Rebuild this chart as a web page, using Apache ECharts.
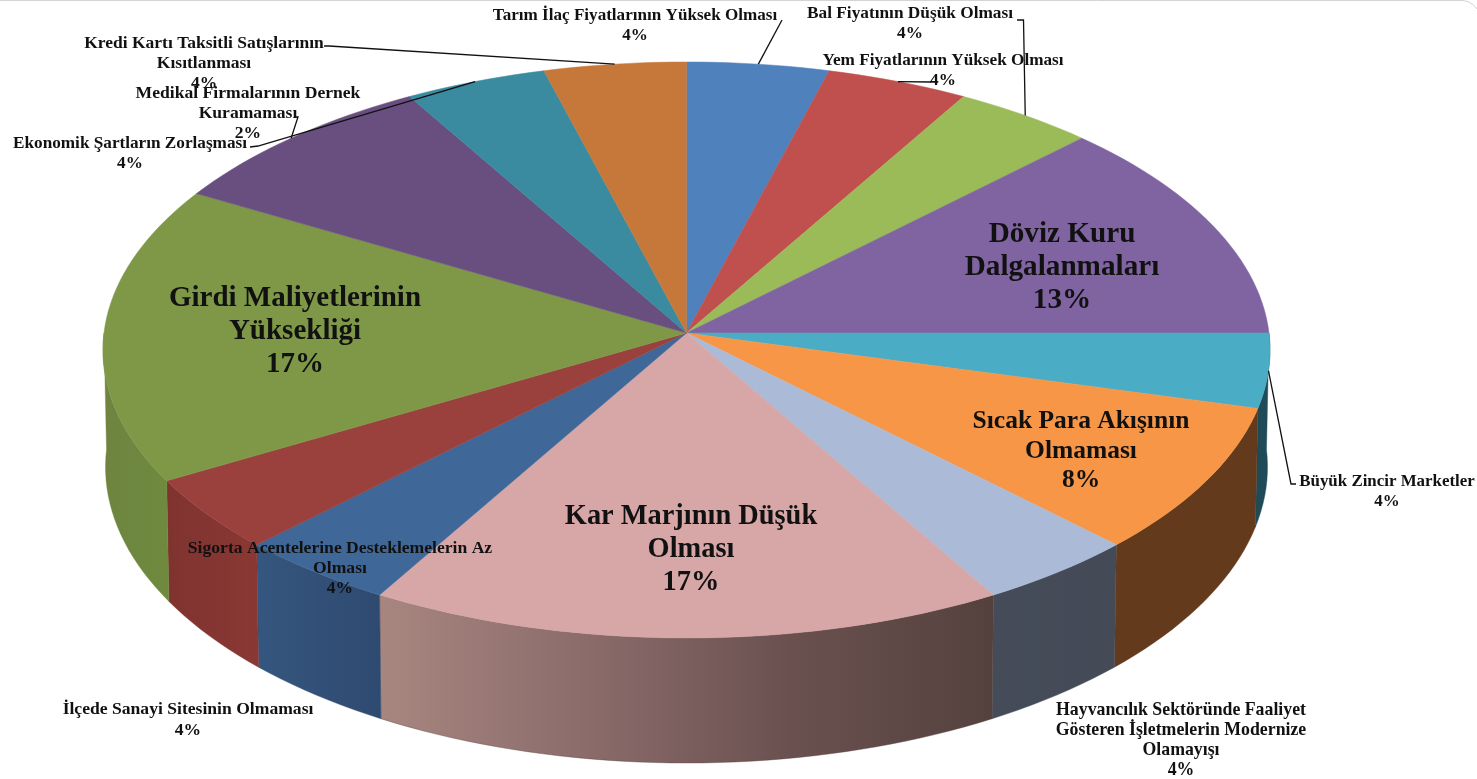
<!DOCTYPE html>
<html>
<head>
<meta charset="utf-8">
<style>html,body{margin:0;padding:0;background:#fff}#c{width:1477px;height:779px}</style>
<script src="https://cdn.jsdelivr.net/npm/echarts@6/dist/echarts.min.js"></script>
</head>
<body>
<div id="c"></div>
<script>
// ---- data (clockwise from 12 o'clock) ----
const categories = [
  'Tarım İlaç Fiyatlarının Yüksek Olması',
  'Yem Fiyatlarının Yüksek Olması',
  'Bal Fiyatının Düşük Olması',
  'Döviz Kuru\nDalgalanmaları',
  'Büyük Zincir Marketler',
  'Sıcak Para Akışının\nOlmaması',
  'Hayvancılık Sektöründe Faaliyet\nGösteren İşletmelerin Modernize\nOlamayışı',
  'Kar Marjının Düşük\nOlması',
  'Sigorta Acentelerine Desteklemelerin Az\nOlması',
  'İlçede Sanayi Sitesinin Olmaması',
  'Girdi Maliyetlerinin\nYüksekliği',
  'Medikal Firmalarının Dernek\nKuramaması',
  'Ekonomik Şartların Zorlaşması',
  'Kredi Kartı Taksitli Satışlarının\nKısıtlanması'
];
const responses = [1, 1, 1, 3, 1, 2, 1, 4, 1, 1, 4, 2, 1, 1];
const percentLabels = ['4%','4%','4%','13%','4%','8%','4%','17%','4%','4%','17%','2%','4%','4%'];

// ---- styles ----
const topColors = ['#4F81BD','#C0504D','#9BBB59','#8064A2','#4BACC6','#F79646','#AABAD7','#D7A6A6','#3F6797','#9A403D','#7F9848','#684F80','#3A8AA0','#C6783A'];
const wallColors = [null,null,null,null,
  ['#1F4A57','#1F4A57'],['#643A1C','#633A1C'],['#454C59','#444A56'],
  ['#A88680','#8B6C6B','#6A5150','#54413D'],['#35567F','#2F4A70'],['#7F332F','#8A3834'],['#6E8440','#6F8A3E'],null,null,null];
const serif = '"Liberation Serif", serif';
const labelLayout = [
  {x:635, y:26,  size:17.1, lh:20},{x:943, y:71,  size:17.2, lh:20},{x:910, y:24,  size:17.3, lh:20},
  {x:1062,y:267, size:29.2, lh:33},{x:1387,y:492, size:16.9, lh:20},{x:1081,y:451, size:25.5, lh:29.5},
  {x:1181,y:740, size:17.8, lh:20},{x:691, y:550, size:28.4, lh:33},{x:340, y:568, size:17.6, lh:20},
  {x:188, y:720, size:17.6, lh:20.5},{x:295, y:332, size:29, lh:33},{x:248, y:113, size:17.6, lh:20},
  {x:130, y:154, size:17.2, lh:20},{x:204, y:63,  size:17.5, lh:20}
];
const leaderStarts = {
  0:[[782,20]], 1:[[931,82]], 2:[[1017,20],[1023.5,20]], 4:[[1296,484],[1291,484]],
  11:[[296,117],[298,117]], 12:[[250,147],[258,146]], 13:[[324,46],[329,46]]
};
// perspective projection of the pie's disc
const view = {cx:686.5, persp:0.059,
  top:{cy:333, a:582.5, b:287},
  bottom:{cy:449.5, a:580, b:295}};

const total = responses.reduce((s,v)=>s+v,0);
const startOf = i => responses.slice(0,i).reduce((s,v)=>s+v,0)/total*360;
function project(deg, face){
  const t = deg*Math.PI/180, u = Math.sin(t), v = Math.cos(t), w = 1+view.persp*v;
  return [view.cx+face.a*u/w, face.cy-face.b*v/w];
}
function rim(a0,a1,face){
  const n = Math.max(2,Math.ceil(Math.abs(a1-a0)/1.5)), pts=[];
  for(let k=0;k<=n;k++) pts.push(project(a0+(a1-a0)*k/n,face));
  return pts;
}
const centre = [view.cx, view.top.cy];

function renderWall(params, api){
  const i = params.dataIndex, a0 = Math.max(startOf(i),90), a1 = Math.min(startOf(i)+api.value(0)/total*360,270);
  if(a1<=a0 || !wallColors[i]) return;
  const cols = wallColors[i];
  const stops = cols.map((c,k)=>({offset:k/(cols.length-1),color:c}));
  return {type:'polygon',
    shape:{points:rim(a0,a1,view.top).concat(rim(a1,a0,view.bottom))},
    style:{fill:new echarts.graphic.LinearGradient(0,0,1,0,stops),stroke:cols[cols.length-1],lineWidth:0.4}};
}
function renderTop(params, api){
  const i = params.dataIndex, a0 = startOf(i), a1 = a0+api.value(0)/total*360;
  return {type:'polygon',
    shape:{points:[centre].concat(rim(a0,a1,view.top))},
    style:{fill:topColors[i],stroke:topColors[i],lineWidth:0.5}};
}
function renderLabel(params, api){
  const i = params.dataIndex, L = labelLayout[i], children=[];
  const mid = startOf(i)+api.value(0)/total*180;
  if(leaderStarts[i]){
    children.push({type:'polyline',
      shape:{points:leaderStarts[i].concat([project(mid,view.top)])},
      style:{fill:null,stroke:'#111',lineWidth:1.3}});
  }
  children.push({type:'text',
    style:{text:categories[i]+'\n'+percentLabels[i],x:L.x,y:L.y,align:'center',verticalAlign:'middle',
      font:'bold '+L.size+'px '+serif,lineHeight:L.lh,fill:'#111'}});
  return {type:'group',children};
}
const sliceData = responses.map((v,i)=>({name:categories[i],value:[v]}));
const chart = echarts.init(document.getElementById('c'),null,{renderer:'canvas'});
chart.setOption({
  animation:false,
  backgroundColor:'#fff',
  graphic:[{type:'polyline',z:0,shape:{points:[[0,0.5],[1462,0.5],[1468,1.5],[1473,4.5],[1477,9]]},style:{fill:null,stroke:'#d4d4d4',lineWidth:1}}],
  series:[
    {type:'custom',name:'walls',coordinateSystem:'none',renderItem:renderWall,data:sliceData,z:1,silent:true},
    {type:'custom',name:'slices',coordinateSystem:'none',renderItem:renderTop,data:sliceData,z:2,silent:true},
    {type:'custom',name:'labels',coordinateSystem:'none',renderItem:renderLabel,data:sliceData,z:3,silent:true}
  ]
});
</script>
</body>
</html>
